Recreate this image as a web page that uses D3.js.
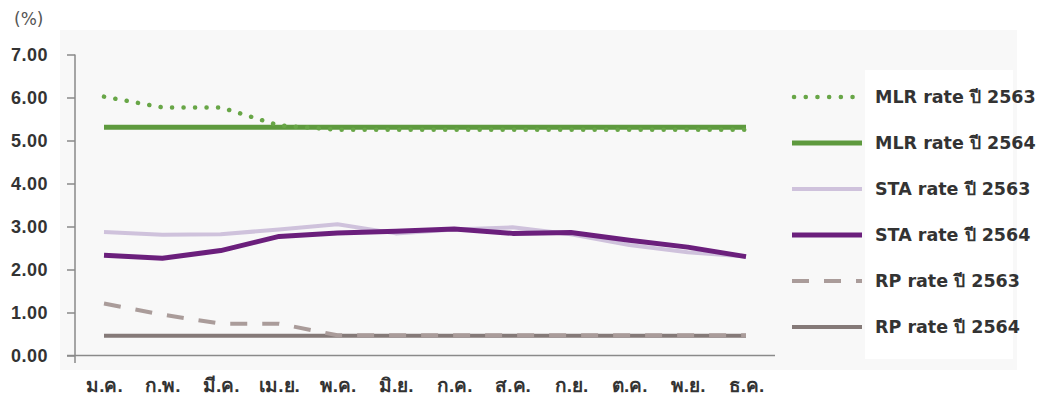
<!DOCTYPE html>
<html><head><meta charset="utf-8">
<script src="https://cdn.jsdelivr.net/npm/d3@7"></script>
<style>body{margin:0;background:#fff}svg{display:block;font-family:"DejaVu Sans","Noto Sans",sans-serif}</style>
</head><body><svg id="c" width="1046" height="403"></svg>
<script>
const months = ["ม.ค.","ก.พ.","มี.ค.","เม.ย.","พ.ค.","มิ.ย.","ก.ค.","ส.ค.","ก.ย.","ต.ค.","พ.ย.","ธ.ค."];
const yTicks = [0,1,2,3,4,5,6,7];
const mlr2563 = [6.02,5.77,5.77,5.35,5.25,5.25,5.25,5.25,5.25,5.25,5.25,5.25];
const mlr2564 = [5.31,5.31,5.31,5.31,5.31,5.31,5.31,5.31,5.31,5.31,5.31,5.31];
const sta2563 = [2.87,2.81,2.82,2.93,3.05,2.84,2.93,2.98,2.82,2.57,2.40,2.30];
const sta2564 = [2.33,2.26,2.44,2.77,2.85,2.89,2.94,2.84,2.86,2.68,2.52,2.30];
const rp2563 = [1.21,0.95,0.74,0.74,0.47,0.47,0.47,0.47,0.47,0.47,0.47,0.47];
const rp2564 = [0.46,0.46,0.46,0.46,0.46,0.46,0.46,0.46,0.46,0.46,0.46,0.46];
const seriesNames = ["MLR rate ปี 2563","MLR rate ปี 2564","STA rate ปี 2563","STA rate ปี 2564","RP rate ปี 2563","RP rate ปี 2564"];

const series = [
  {name:seriesNames[0], v:mlr2563, color:"#68a647", w:4.5, dash:"0.1 11.4", ldash:"0.1 11.6", cap:"round"},
  {name:seriesNames[1], v:mlr2564, color:"#5e9a3e", w:5, dash:null, cap:"butt"},
  {name:seriesNames[2], v:sta2563, color:"#cfc2dc", w:4, dash:null, cap:"butt"},
  {name:seriesNames[3], v:sta2564, color:"#6b1f7c", w:5, dash:null, cap:"butt"},
  {name:seriesNames[4], v:rp2563, color:"#aa9c9a", w:4, dash:"17 15", ldash:"17 15", cap:"butt"},
  {name:seriesNames[5], v:rp2564, color:"#857a78", w:4, dash:null, cap:"butt"}
];
const drawOrder = [2,3,5,4,1,0];

const svg = d3.select("#c");
svg.append("rect").attr("x",60).attr("y",30).attr("width",957).attr("height",340).attr("fill","#f8f8f8");
svg.append("rect").attr("x",865).attr("y",70).attr("width",148).attr("height",289).attr("fill","#ffffff");

const x = d3.scalePoint().domain(months).range([104,746]);
const y = d3.scaleLinear().domain([0,7]).range([355.5,54.5]);

// axes
const yAxis = svg.append("g").attr("transform","translate(75,0)")
  .call(d3.axisLeft(y).tickValues(yTicks).tickFormat(d3.format(".2f")).tickSize(8).tickSizeOuter(0));
yAxis.select(".domain").attr("stroke","#8a8a8a").attr("stroke-width",1.5).attr("d","M0,54.5V363");
yAxis.selectAll(".tick line").attr("stroke","#8a8a8a").attr("stroke-width",1.5);
yAxis.selectAll(".tick text").attr("x",-27).attr("fill","#333").attr("font-size",18).attr("font-weight",700)
  .attr("letter-spacing",0.5).attr("dy","0.36em");

const xAxis = svg.append("g").attr("transform","translate(0,355.5)")
  .call(d3.axisBottom(x).tickSize(0).tickSizeOuter(0));
xAxis.select(".domain").attr("stroke","#8a8a8a").attr("stroke-width",1.5).attr("d","M67,0H775");
xAxis.selectAll(".tick text").attr("y",30).attr("fill","#333").attr("font-size",19).attr("font-weight",700).attr("dy","0.35em");

svg.append("text").attr("x",14).attr("y",25).attr("fill","#555").attr("font-size",17).text("(%)");

const line = d3.line().x((d,i)=>x(months[i])).y(d=>y(d));
drawOrder.forEach(k=>{
  const s = series[k];
  svg.append("path").attr("d",line(s.v)).attr("fill","none").attr("stroke",s.color)
    .attr("stroke-width",s.w).attr("stroke-linecap",s.cap).attr("stroke-linejoin","round")
    .attr("stroke-dasharray",s.dash);
});

// legend
const legendY = d3.scalePoint().domain(seriesNames).range([97,327]);
series.forEach(s=>{
  const ly = legendY(s.name);
  svg.append("line").attr("x1",s.ldash && s.ldash.startsWith("0.1")?794:792).attr("x2",862).attr("y1",ly).attr("y2",ly)
    .attr("stroke",s.color).attr("stroke-width",s.w).attr("stroke-linecap",s.cap)
    .attr("stroke-dasharray",s.ldash || null);
  svg.append("text").attr("x",875).attr("y",ly).attr("dy","0.36em").attr("fill","#333")
    .attr("font-size",17.5).attr("font-weight",700).text(s.name);
});
</script></body></html>
